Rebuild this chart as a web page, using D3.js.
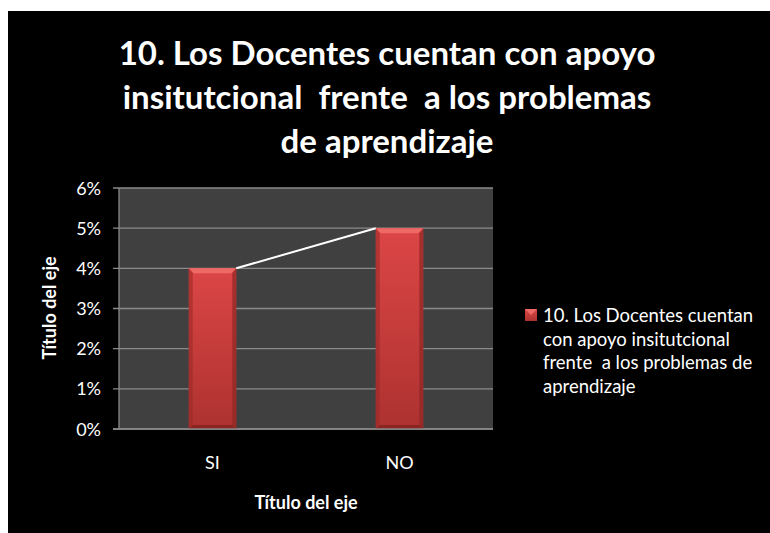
<!DOCTYPE html>
<html>
<head>
<meta charset="utf-8">
<script src="https://cdn.jsdelivr.net/npm/d3@7"></script>
<style>
  body { margin: 0; background: #fff; }
  svg { display: block; }
  text { font-family: Lato, "Open Sans", sans-serif; fill: #fff; white-space: pre; }
</style>
</head>
<body>
<svg width="770" height="533"></svg>
<script>
// data
var categories = ["SI", "NO"];
var values = [0.04, 0.05];
var yTicks = [0, 0.01, 0.02, 0.03, 0.04, 0.05, 0.06];
var titleLines = ["10. Los Docentes cuentan con apoyo", "insitutcional  frente  a los problemas", "de aprendizaje"];
var legendLines = ["10. Los Docentes cuentan", "con apoyo insitutcional", "frente  a los problemas de", "aprendizaje"];
var axisTitle = "Título del eje";

var svg = d3.select("svg");

// black chart background
svg.append("rect").attr("x", 8).attr("y", 11).attr("width", 762).attr("height", 522).attr("fill", "#000");

var defs = svg.append("defs");
var grad = defs.append("linearGradient").attr("id", "barGrad").attr("x1", 0).attr("y1", 0).attr("x2", 0).attr("y2", 1);
grad.append("stop").attr("offset", "0%").attr("stop-color", "#dc4646");
grad.append("stop").attr("offset", "100%").attr("stop-color", "#ad3230");

var xScale = d3.scaleBand().domain(categories).range([119, 493]).paddingInner(0.746).paddingOuter(0.373);
var yScale = d3.scaleLinear().domain([0, 0.06]).range([429, 188]);

// plot area
svg.append("rect").attr("x", 119).attr("y", 188).attr("width", 374).attr("height", 241).attr("fill", "#404040");

// gridlines
svg.append("g").selectAll("line").data(yTicks).enter().append("line")
  .attr("x1", 113).attr("x2", 493)
  .attr("y1", d => yScale(d)).attr("y2", d => yScale(d))
  .style("stroke", "#8a8a8a").style("stroke-width", 1.3);

// y axis line
svg.append("line").attr("x1", 119).attr("x2", 119).attr("y1", 188).attr("y2", 429)
  .style("stroke", "#8a8a8a").style("stroke-width", 1.3);

// y tick labels
svg.append("g").selectAll("text").data(yTicks).enter().append("text")
  .attr("x", 101).attr("y", d => yScale(d) + 6.5)
  .attr("text-anchor", "end").style("font-size", "18px")
  .text(d3.format(".0%"));

// bars
var bars = svg.append("g").selectAll("g").data(values).enter().append("g");
bars.append("rect")
  .attr("x", (d, i) => xScale(categories[i]))
  .attr("y", d => yScale(d))
  .attr("width", xScale.bandwidth())
  .attr("height", d => yScale(0) - yScale(d))
  .attr("fill", "url(#barGrad)");
// bevel: top light, sides and bottom darker
bars.append("path")
  .attr("d", function(d, i) {
    var x0 = xScale(categories[i]), x1 = x0 + xScale.bandwidth(), y0 = yScale(d), b = 5;
    return "M" + x0 + "," + y0 + "L" + x1 + "," + y0 + "L" + (x1 - b) + "," + (y0 + b) + "L" + (x0 + b) + "," + (y0 + b) + "Z";
  }).attr("fill", "#ef6a66");
bars.append("path")
  .attr("d", function(d, i) {
    var x0 = xScale(categories[i]), x1 = x0 + xScale.bandwidth(), y0 = yScale(d), y1 = yScale(0), b = 4;
    return "M" + x1 + "," + y0 + "L" + x1 + "," + y1 + "L" + (x1 - b) + "," + (y1 - b) + "L" + (x1 - b) + "," + (y0 + 5) + "Z";
  }).attr("fill", "#8e2624").attr("opacity", 0.7);
bars.append("path")
  .attr("d", function(d, i) {
    var x0 = xScale(categories[i]), y0 = yScale(d), y1 = yScale(0), b = 4;
    return "M" + x0 + "," + y0 + "L" + x0 + "," + y1 + "L" + (x0 + b) + "," + (y1 - b) + "L" + (x0 + b) + "," + (y0 + 5) + "Z";
  }).attr("fill", "#9a2a28").attr("opacity", 0.6);
bars.append("path")
  .attr("d", function(d, i) {
    var x0 = xScale(categories[i]), x1 = x0 + xScale.bandwidth(), y1 = yScale(0), b = 4;
    return "M" + x0 + "," + y1 + "L" + x1 + "," + y1 + "L" + (x1 - b) + "," + (y1 - b) + "L" + (x0 + b) + "," + (y1 - b) + "Z";
  }).attr("fill", "#7a1f1e").attr("opacity", 0.7);

// series line joining bar tops
svg.append("line")
  .attr("x1", xScale(categories[0]) + xScale.bandwidth()).attr("y1", yScale(values[0]))
  .attr("x2", xScale(categories[1])).attr("y2", yScale(values[1]))
  .style("stroke", "#fff").style("stroke-width", 2);

// x axis line
svg.append("line").attr("x1", 113).attr("x2", 493).attr("y1", 429).attr("y2", 429)
  .style("stroke", "#8a8a8a").style("stroke-width", 1.5);

// x labels
svg.append("g").selectAll("text").data(categories).enter().append("text")
  .attr("x", d => xScale(d) + xScale.bandwidth() / 2).attr("y", 469)
  .attr("text-anchor", "middle").style("font-size", "18px")
  .text(d => d);

// axis titles
svg.append("text").attr("x", 306).attr("y", 509).attr("text-anchor", "middle")
  .style("font-size", "18px").style("font-weight", "bold").text(axisTitle);
svg.append("text").attr("transform", "translate(56,308) rotate(-90)").attr("text-anchor", "middle")
  .style("font-size", "18px").style("font-weight", "bold").text(axisTitle);

// title
svg.append("g").selectAll("text").data(titleLines).enter().append("text")
  .attr("x", 387).attr("y", (d, i) => 65 + i * 44)
  .attr("text-anchor", "middle").style("font-size", "33px").style("font-weight", "bold")
  .text(d => d);

// legend
svg.append("rect").attr("x", 525).attr("y", 309).attr("width", 12).attr("height", 12).attr("fill", "url(#barGrad)");
svg.append("path").attr("d", "M525,309L537,309L531,315Z").attr("fill", "#ef6a66");
svg.append("g").selectAll("text").data(legendLines).enter().append("text")
  .attr("x", 543).attr("y", (d, i) => 322 + i * 23.5)
  .style("font-size", "18.5px")
  .text(d => d);
</script>
</body>
</html>
